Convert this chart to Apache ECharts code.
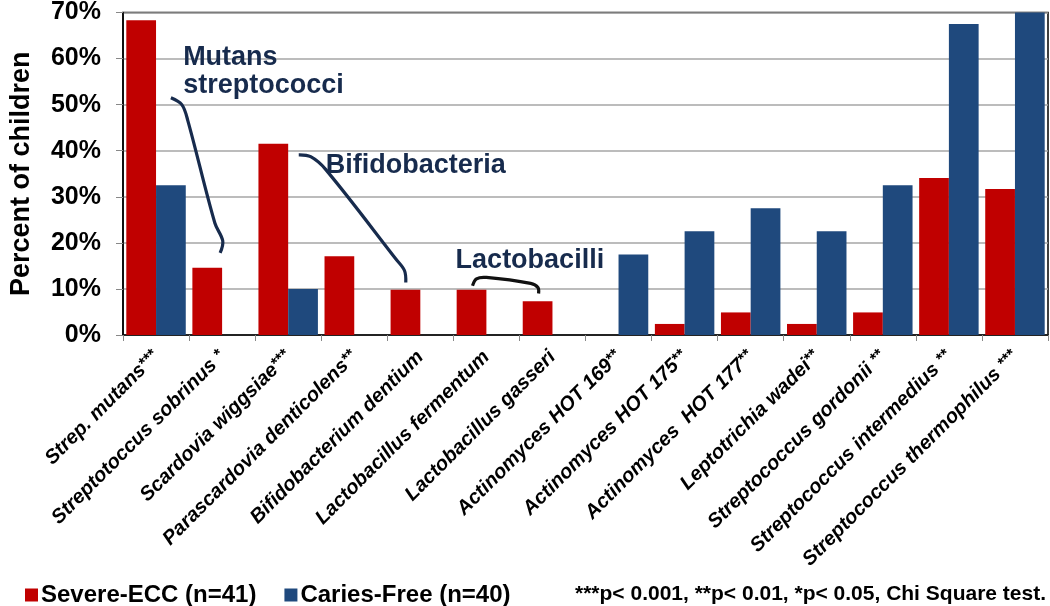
<!DOCTYPE html>
<html>
<head>
<meta charset="utf-8">
<script src="https://cdn.jsdelivr.net/npm/echarts@6/dist/echarts.min.js"></script>
<style>
  html, body { margin: 0; padding: 0; background: #fff; }
  #main { width: 1050px; height: 606px; }
</style>
</head>
<body>
<div id="main"></div>
<script>
// bacteria names and significance stars
const species = [
  'Strep. mutans', 'Streptotoccus sobrinus ', 'Scardovia wiggsiae', 'Parascardovia denticolens',
  'Bifidobacterium dentium', 'Lactobacillus fermentum', 'Lactobacillus gasseri',
  'Actinomyces HOT 169', 'Actinomyces HOT 175', 'Actinomyces  HOT 177', 'Leptotrichia wadei',
  'Streptococcus gordonii ', 'Streptococcus intermedius ', 'Streptococcus thermophilus '
];
const stars = ['***', '*', '***', '**', '', '', '', '**', '**', '**', '**', '**', '**', '***'];

// percent of children
const severeECC = [68.3, 14.6, 41.5, 17.1, 9.8, 9.8, 7.3, 0, 2.4, 4.9, 2.4, 4.9, 34.1, 31.7];
const cariesFree = [32.5, 0, 10, 0, 0, 0, 0, 17.5, 22.5, 27.5, 22.5, 32.5, 67.5, 70];

const yTicks = [0, 10, 20, 30, 40, 50, 60, 70];

const FONT = 'Arial, "Liberation Sans", sans-serif';
const NAVY = '#172b4d';

let myChart = echarts.init(document.getElementById('main'));

let option = {
  animation: false,
  textStyle: { fontFamily: FONT },
  grid: {
    left: 122, right: 2, top: 9, bottom: 271,
    show: true, borderColor: '#000', borderWidth: 1.5
  },
  legend: {
    left: 20, top: 578,
    itemWidth: 13, itemHeight: 13, itemGap: 28,
    icon: 'rect',
    textStyle: { fontSize: 24, fontWeight: 'bold', color: '#000', fontFamily: FONT, padding: [0, 0, 0, -2] },
    data: ['Severe-ECC (n=41)', 'Caries-Free (n=40)']
  },
  xAxis: {
    type: 'category',
    data: species,
    axisLine: { lineStyle: { color: '#000', width: 1.5 } },
    axisTick: { show: true, length: 6, lineStyle: { color: '#888' } },
    axisLabel: {
      interval: 0,
      rotate: 45,
      margin: 19,
      formatter: function (v, i) {
        return stars[i] ? v + '{s|' + stars[i] + '}' : v;
      },
      fontSize: 20,
      fontWeight: 'bold',
      fontStyle: 'italic',
      color: '#000',
      fontFamily: FONT,
      rich: {
        s: { fontSize: 16, fontWeight: 'bold', fontStyle: 'italic', color: '#000', verticalAlign: 'top', fontFamily: FONT }
      }
    }
  },
  yAxis: {
    type: 'value',
    min: yTicks[0],
    max: yTicks[yTicks.length - 1],
    interval: 10,
    name: 'Percent of children',
    nameLocation: 'middle',
    nameGap: 88,
    nameTextStyle: { fontSize: 27, fontWeight: 'bold', color: '#000', fontFamily: FONT },
    axisLine: { show: true, lineStyle: { color: '#000', width: 1.5 } },
    axisTick: { show: true, length: 7, lineStyle: { color: '#888' } },
    axisLabel: {
      formatter: '{value}%',
      margin: 22,
      fontSize: 25,
      fontWeight: 'bold',
      color: '#000',
      fontFamily: FONT
    },
    splitLine: { lineStyle: { color: '#a6a6a6', width: 1.5 } }
  },
  series: [
    {
      name: 'Severe-ECC (n=41)',
      type: 'bar',
      data: severeECC,
      barGap: '0%',
      barCategoryGap: '10%',
      itemStyle: { color: '#c00000' }
    },
    {
      name: 'Caries-Free (n=40)',
      type: 'bar',
      data: cariesFree,
      itemStyle: { color: '#1f497d' }
    }
  ]
};

myChart.setOption(option);

// annotation brackets, anchored on category + fraction of band + value
function pt(cat, frac, val) {
  let a = myChart.convertToPixel({ gridIndex: 0 }, [cat, val]);
  let b = myChart.convertToPixel({ gridIndex: 0 }, [cat + 1 < species.length ? cat + 1 : cat - 1, val]);
  let band = Math.abs(b[0] - a[0]);
  return [a[0] + frac * band, a[1]];
}
function curve(list, color) {
  return {
    type: 'polyline',
    shape: { points: list.map(p => pt(p[0], p[1], p[2])), smooth: 0.35 },
    style: { stroke: color || NAVY, lineWidth: 3.2, fill: null }
  };
}
function label(text, cat, frac, val) {
  let p = pt(cat, frac, val);
  return {
    type: 'text', x: p[0], y: p[1],
    style: { text: text, fill: NAVY, font: 'bold 27px ' + FONT, textVerticalAlign: 'bottom' }
  };
}

myChart.setOption({
  graphic: [
    curve([[0, 0.225, 51.5], [0, 0.39, 50.0], [0, 0.48, 46.6], [1, -0.11, 24.3], [1, 0.01, 20.4], [1, -0.03, 17.8]]),
    curve([[3, -0.84, 39.1], [3, -0.66, 38.7], [3, -0.43, 35.9], [4, -0.37, 16.5], [4, -0.24, 14.0], [4, -0.22, 11.4]]),
    curve([[5, -0.21, 10.7], [5, -0.15, 12.2], [5, 0.0, 12.5], [6, -0.33, 11.2], [6, -0.22, 10.3], [6, -0.21, 9.0]], '#111'),
    label('Mutans', 0, 0.41, 57.3),
    label('streptococci', 0, 0.41, 51.3),
    label('Bifidobacteria', 3, -0.43, 33.9),
    label('Lactobacilli', 5, -0.466, 13.3),
    {
      type: 'text', right: 4, top: 584,
      style: { text: '***p< 0.001, **p< 0.01, *p< 0.05, Chi Square test.', fill: '#000', font: 'bold 21px ' + FONT }
    }
  ]
});
</script>
</body>
</html>
